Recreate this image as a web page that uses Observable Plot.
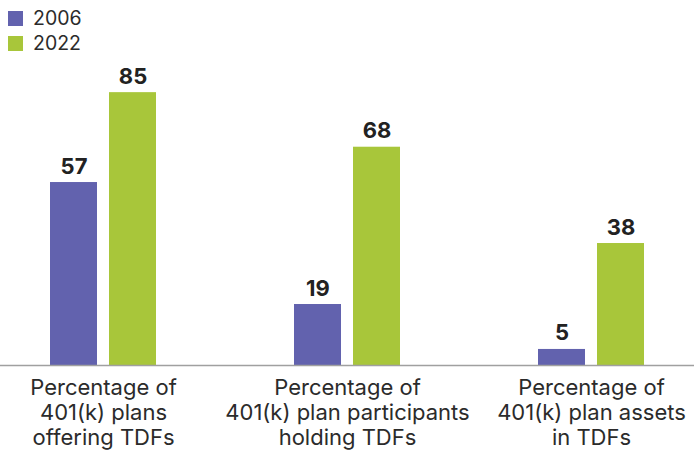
<!DOCTYPE html>
<html>
<head>
<meta charset="utf-8">
<script src="https://cdn.jsdelivr.net/npm/d3@7"></script>
<script src="https://cdn.jsdelivr.net/npm/@observablehq/plot@0.6"></script>
<style>
  html, body { margin: 0; padding: 0; background: #fff; }
  #wrap { position: relative; width: 694px; height: 450px; overflow: hidden; font-family: Inter, "Noto Sans", sans-serif; }
  #legend { position: absolute; left: 8px; top: 6px; font-size: 19.5px; color: #2b2b2b; line-height: 25px; z-index: 2; }
  #legend .item { display: flex; align-items: center; }
  #legend .sw { width: 15px; height: 15px; margin-right: 10px; }
</style>
</head>
<body>
<div id="wrap"><div id="legend"></div></div>
<script>
const categories = ["plans", "participants", "assets"];
const categoryLabels = [
  "Percentage of\n401(k) plans\noffering TDFs",
  "Percentage of\n401(k) plan participants\nholding TDFs",
  "Percentage of\n401(k) plan assets\nin TDFs"
];
const years = ["2006", "2022"];
const values2006 = [57, 19, 5];
const values2022 = [85, 68, 38];
const colors = ["#6262ae", "#a8c63a"];

const rows2006 = categories.map((c, i) => ({category: c, value: values2006[i]}));
const rows2022 = categories.map((c, i) => ({category: c, value: values2022[i]}));

const legend = document.getElementById("legend");
years.forEach((y, i) => {
  const it = document.createElement("div");
  it.className = "item";
  it.innerHTML = `<span class="sw" style="background:${colors[i]}"></span><span>${y}</span>`;
  legend.appendChild(it);
});

const chart = Plot.plot({
  width: 694,
  height: 450,
  marginLeft: 0,
  marginRight: 0,
  marginTop: 44,
  marginBottom: 85,
  style: {fontFamily: "Inter, 'Noto Sans', sans-serif", background: "transparent", overflow: "visible"},
  x: {domain: categories, paddingInner: 0.469, paddingOuter: 0.151, label: null},
  y: {domain: [0, 100], axis: null},
  marks: [
    Plot.barY(rows2006, {x: "category", y: "value", fill: colors[0], insetLeft: 12, insetRight: 71}),
    Plot.barY(rows2022, {x: "category", y: "value", fill: colors[1], insetLeft: 71, insetRight: 12}),
    Plot.text(rows2006, {x: "category", y: "value", text: d => String(d.value), dx: -29.5, dy: -9, lineAnchor: "bottom", fontSize: 22, fontWeight: "bold", fill: "#222"}),
    Plot.text(rows2022, {x: "category", y: "value", text: d => String(d.value), dx: 29.5, dy: -9, lineAnchor: "bottom", fontSize: 22, fontWeight: "bold", fill: "#222"}),
    Plot.ruleY([0], {stroke: "#a0a0a0", strokeWidth: 1.5}),
    Plot.axisX({tickSize: 0, tickPadding: 12, fontSize: 22, lineHeight: 1.14, fill: "#2b2b2b",
      tickFormat: d => categoryLabels[categories.indexOf(d)], label: null})
  ]
});
document.getElementById("wrap").prepend(chart);
chart.style.position = "absolute";
chart.style.left = "0";
chart.style.top = "0";
</script>
</body>
</html>
